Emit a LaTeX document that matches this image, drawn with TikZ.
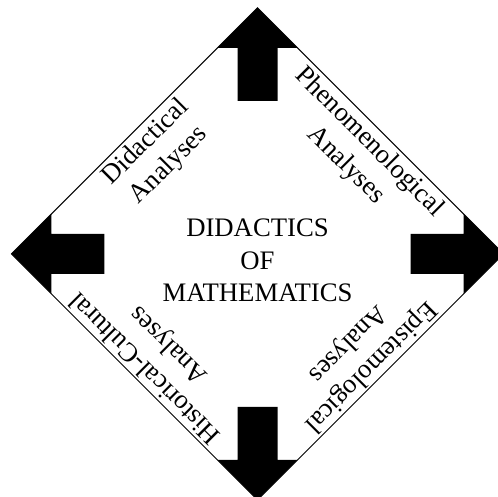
\documentclass[tikz,border=0pt]{standalone}
\usepackage{fontspec}
\setmainfont{Liberation Serif}
\tikzset{
  labeltext/.style={align=center, inner sep=0pt, font=\fontsize{15.2}{18.6}\selectfont},
  blockarrow/.style={fill=black, draw=none},
}
\begin{document}
\begin{tikzpicture}
        \useasboundingbox (-5.15,-4.86) rectangle (4.81,5.08);
        \coordinate (top) at (0,4.92);
        \coordinate (right) at (4.92,0);
        \coordinate (bottom) at (0,-4.92);
        \coordinate (left) at (-4.92,0);
        \draw[line width=0.6pt] (top) -- (right) -- (bottom) -- (left) -- cycle;
        \foreach \a in {0,90,180,270}
          \fill[blockarrow, rotate=\a] (0,4.92) -- (0.8,4.12) -- (0.4,4.12) -- (0.4,3.06)
            -- (-0.4,3.06) -- (-0.4,4.12) -- (-0.8,4.12) -- cycle;
        \node[labeltext] (title) at (0,-0.13) {DIDACTICS\\OF\\MATHEMATICS};
        \node[labeltext, rotate=45] (didact) at (-2,2) {Didactical\\Analyses};
        \node[labeltext, rotate=-45] (phenom) at (2,2) {Phenomenological\\Analyses};
        \node[labeltext, rotate=135] (histcult) at (-2,-2.04) {Historical-Cultural\\Analyses};
        \node[labeltext, rotate=225] (epist) at (2.03,-2.02) {Epistemological\\Analyses};
      \end{tikzpicture}
\end{document}
